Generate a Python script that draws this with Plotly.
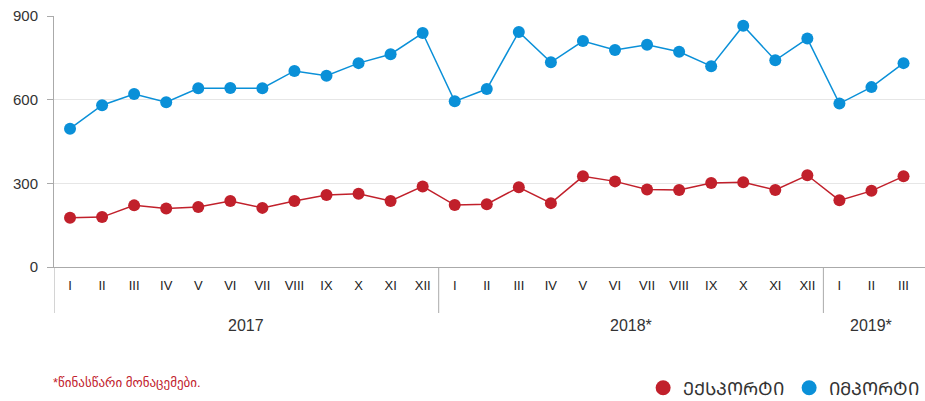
import plotly.graph_objects as go

years = ["2017", "2018*", "2019*"]
months_per_year = [12, 12, 3]
roman = ["I", "II", "III", "IV", "V", "VI", "VII", "VIII", "IX", "X", "XI", "XII"]
month_labels = roman + roman + roman[:3]

export_vals = [177, 179, 221, 210, 215, 237, 212, 237, 258, 263, 237, 289,
               222, 225, 286, 229, 325, 307, 278, 276, 301, 304, 276, 329,
               239, 273, 325]
import_vals = [496, 580, 620, 591, 641, 642, 641, 703, 686, 731, 763, 839,
               594, 638, 843, 734, 810, 778, 797, 772, 720, 865, 741, 819,
               586, 645, 731]

y_ticks = [0, 300, 600, 900]
export_name = "ᲔᲥᲡᲞᲝᲠᲢᲘ"
import_name = "ᲘᲛᲞᲝᲠᲢᲘ"
footnote = "*წინასწარი მონაცემები."

RED = "#c1202b"
BLUE = "#0a90d8"
FONT = "Liberation Sans, Arial, DejaVu Sans, sans-serif"

x = list(range(len(month_labels)))

fig = go.Figure()
for vals, color in [(import_vals, BLUE), (export_vals, RED)]:
    fig.add_trace(go.Scatter(
        x=x, y=vals, mode="lines+markers",
        line=dict(color=color, width=1.5),
        marker=dict(color=color, size=12),
        showlegend=False, cliponaxis=False,
    ))
for name, color in [(export_name, RED), (import_name, BLUE)]:
    fig.add_trace(go.Scatter(
        x=[None], y=[None], mode="markers", name=name,
        marker=dict(color=color, size=15),
    ))

# year group labels and dividers
start = 0
bottom_px = 267
plot_h = 251
div_y = -(313 - bottom_px) / plot_h
year_y = -(325 - bottom_px) / plot_h
fig.add_shape(type="line", xref="x", yref="paper", x0=-0.5, x1=-0.5,
              y0=0, y1=div_y, line=dict(color="#aaaaaa", width=1))
for yr, n in zip(years, months_per_year):
    end = start + n
    fig.add_annotation(x=(start + end - 1) / 2, y=year_y, xref="x", yref="paper",
                       text=yr, showarrow=False, yanchor="middle",
                       font=dict(size=16, color="#333333", family=FONT))
    if end < len(month_labels):
        fig.add_shape(type="line", xref="x", yref="paper", x0=end - 0.5, x1=end - 0.5,
                      y0=0, y1=div_y, line=dict(color="#aaaaaa", width=1))
    start = end

fig.add_annotation(x=-0.003, y=-(382 - bottom_px) / plot_h, xref="paper", yref="paper",
                   text=footnote, showarrow=False, xanchor="left", yanchor="middle",
                   font=dict(size=13, color=RED, family=FONT))

fig.update_layout(
    width=925, height=401,
    margin=dict(l=54, r=0, t=16, b=134, autoexpand=False),
    paper_bgcolor="white", plot_bgcolor="white",
    font=dict(family=FONT, color="#333333"),
    legend=dict(orientation="h", x=0.999, xanchor="right",
                y=-(388 - bottom_px) / plot_h, yanchor="middle",
                font=dict(size=18, color="#333333", family=FONT),
                itemwidth=30, traceorder="normal"),
    xaxis=dict(range=[-0.5, 26.67], tickmode="array", tickvals=x, ticktext=month_labels,
               showgrid=False, zeroline=False, showline=True, linecolor="#aaaaaa",
               linewidth=1, ticks="", ticklabelstandoff=6, automargin=False,
               tickfont=dict(size=13, color="#222222", family=FONT)),
    yaxis=dict(range=[0, 900], tickmode="array", tickvals=y_ticks,
               showgrid=True, gridcolor="#e6e6e6", gridwidth=1, zeroline=False,
               showline=True, linecolor="#aaaaaa", linewidth=1,
               ticks="outside", ticklen=6, tickcolor="#aaaaaa",
               ticklabelstandoff=6, automargin=False,
               tickfont=dict(size=15, color="#333333", family=FONT)),
)

fig.write_html("out.html", config={"displayModeBar": False},
               post_script="document.body.style.margin='0';document.body.style.overflow='hidden';")
